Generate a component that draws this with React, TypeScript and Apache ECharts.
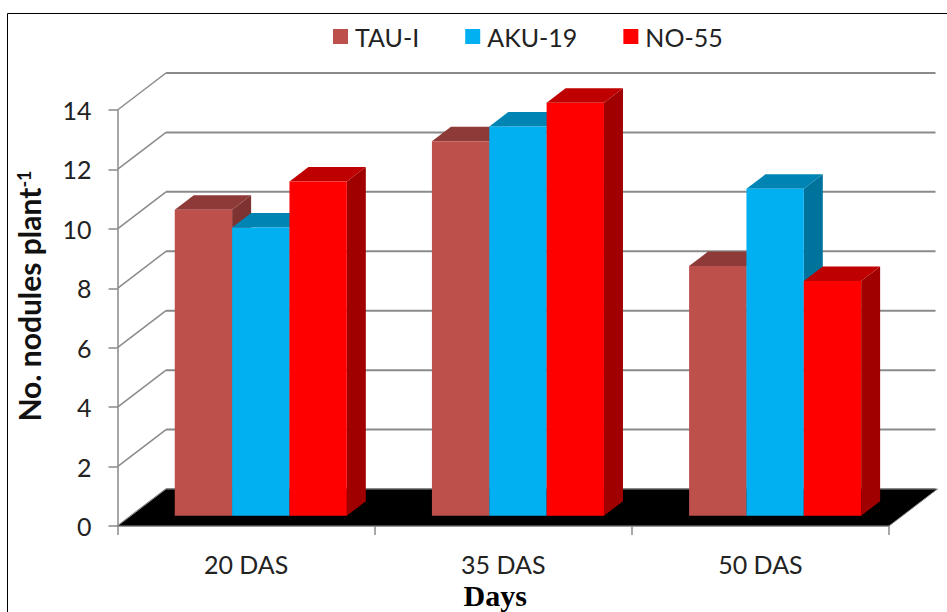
import React, { useEffect, useRef } from "react";
import * as echarts from "echarts";

const categories = ["20 DAS", "35 DAS", "50 DAS"];
const tauValues = [10.3, 12.6, 8.4];
const akuValues = [9.7, 13.1, 11.0];
const noValues = [11.25, 13.9, 7.9];
const yTicks = [0, 2, 4, 6, 8, 10, 12, 14];

const seriesStyles = [
  { name: "TAU-I", values: tauValues, front: "#BE504B", top: "#8E3A38", side: "#7E3331", slot: 0 },
  { name: "AKU-19", values: akuValues, front: "#00B0F0", top: "#0084B4", side: "#00739D", slot: 1 },
  { name: "NO-55", values: noValues, front: "#FF0000", top: "#BF0000", side: "#A00000", slot: 2 },
];

// Oblique projection of the chart's floor, in pixels
const WALL_DX = 48.5;
const WALL_DY = -37;
const BAR_LIFT = 10.3;
const BAR_DX = 19;
const BAR_DY = -14.5;
const GROUP_SHIFT = 14.7;
const GROUP_SHARE = 0.669;

const GREY = "#8A8A8A";
const FONT = "Lato, Carlito, 'Open Sans', sans-serif";
const INK = "#222222";

function renderFloor(params: any, api: any) {
  const c = params.coordSys;
  const y0 = api.coord([0, 0])[1];
  const xl = c.x;
  const xr = c.x + c.width;
  return {
    type: "polygon",
    shape: {
      points: [
        [xl, y0],
        [xl + WALL_DX, y0 + WALL_DY],
        [xr + WALL_DX, y0 + WALL_DY],
        [xr, y0],
      ],
    },
    style: { fill: "#000000", stroke: GREY, lineWidth: 1 },
  };
}

function renderWallLine(params: any, api: any) {
  const c = params.coordSys;
  const y = api.coord([0, api.value(1)])[1];
  const xl = c.x;
  const xr = c.x + c.width;
  return {
    type: "group",
    children: [
      {
        type: "line",
        shape: { x1: xl, y1: y, x2: xl + WALL_DX, y2: y + WALL_DY },
        style: { stroke: GREY, lineWidth: 1.5 },
      },
      {
        type: "line",
        shape: { x1: xl + WALL_DX, y1: y + WALL_DY, x2: xr + WALL_DX - 2, y2: y + WALL_DY },
        style: { stroke: GREY, lineWidth: 2 },
      },
    ],
  };
}

function makeBarRenderer(style: (typeof seriesStyles)[number]) {
  return (_params: any, api: any) => {
    const centre = api.coord([api.value(0), 0]);
    const top = api.coord([api.value(0), api.value(1)]);
    const barWidth = (api.size([1, 0])[0] * GROUP_SHARE) / seriesStyles.length;
    const xl = centre[0] + GROUP_SHIFT + (style.slot - seriesStyles.length / 2) * barWidth;
    const xr = xl + barWidth;
    const yb = centre[1] - BAR_LIFT;
    const yt = top[1] - BAR_LIFT;
    return {
      type: "group",
      children: [
        {
          type: "polygon",
          shape: {
            points: [
              [xr, yt],
              [xr + BAR_DX, yt + BAR_DY],
              [xr + BAR_DX, yb + BAR_DY],
              [xr, yb],
            ],
          },
          style: { fill: style.side },
        },
        {
          type: "polygon",
          shape: {
            points: [
              [xl, yt],
              [xl + BAR_DX, yt + BAR_DY],
              [xr + BAR_DX, yt + BAR_DY],
              [xr, yt],
            ],
          },
          style: { fill: style.top },
        },
        {
          type: "rect",
          shape: { x: xl, y: yt, width: barWidth, height: yb - yt },
          style: { fill: style.front },
        },
      ],
    };
  };
}

export default function App() {
  const ref = useRef<HTMLDivElement>(null);

  useEffect(() => {
    document.body.style.margin = "0";
    const chart = echarts.init(ref.current!, undefined, { renderer: "svg" });
    chart.setOption({
      animation: false,
      backgroundColor: "#ffffff",
      grid: { left: 117.5, right: 58, top: 110, bottom: 86, containLabel: false, outerBoundsMode: "none" },
      legend: {
        left: 333,
        top: 24,
        padding: 0,
        icon: "rect",
        itemWidth: 15,
        itemHeight: 15,
        itemGap: 46,
        data: seriesStyles.map((s) => s.name),
        selectedMode: false,
        textStyle: { fontFamily: FONT, fontSize: 25, color: INK, padding: [0, 0, 0, 2] },
      },
      xAxis: {
        type: "category",
        data: categories,
        name: "Days",
        nameLocation: "middle",
        nameGap: 46,
        nameTextStyle: {
          fontFamily: "'Liberation Serif', serif",
          fontWeight: "bold",
          fontSize: 30,
          color: "#000000",
          padding: [0, 16, 0, 0],
        },
        axisLine: { show: true, lineStyle: { color: GREY, width: 1.5 } },
        axisTick: { show: true, length: 9, lineStyle: { color: GREY, width: 1.5 } },
        axisLabel: { fontFamily: FONT, fontSize: 25, color: INK, margin: 25 },
      },
      yAxis: {
        type: "value",
        min: 0,
        max: 14,
        interval: 2,
        splitLine: { show: false },
        axisLine: { show: true, lineStyle: { color: GREY, width: 1.5 } },
        axisTick: { show: true, length: 9, lineStyle: { color: GREY, width: 1.5 } },
        axisLabel: { fontFamily: FONT, fontSize: 25, color: INK, margin: 26 },
      },
      graphic: [
        { type: "line", shape: { x1: 7.5, y1: 13.5, x2: 947, y2: 13.5 }, style: { stroke: "#000000", lineWidth: 1 } },
        { type: "line", shape: { x1: 7.5, y1: 13.5, x2: 7.5, y2: 612 }, style: { stroke: "#000000", lineWidth: 1 } },
        {
          type: "text",
          x: 29,
          y: 296,
          rotation: Math.PI / 2,
          style: {
            text: "{t|No. nodules plant}{s|-1}",
            align: "center",
            verticalAlign: "middle",
            rich: {
              t: { fontFamily: FONT, fontWeight: "bold", fontSize: 30, fill: "#111111", lineHeight: 34 },
              s: {
                fontFamily: FONT,
                fontWeight: "bold",
                fontSize: 18,
                fill: "#111111",
                verticalAlign: "top",
                lineHeight: 34,
                padding: [3, 0, 0, 0],
              },
            },
          },
        },
      ],
      series: [
        {
          type: "custom",
          name: "floor",
          silent: true,
          clip: false,
          z: 1,
          renderItem: renderFloor,
          encode: { x: 0, y: 1 },
          data: [[0, 0]],
        },
        {
          type: "custom",
          name: "walls",
          silent: true,
          clip: false,
          z: 0,
          renderItem: renderWallLine,
          encode: { x: 0, y: 1 },
          data: yTicks.map((t) => [0, t]),
        },
        ...seriesStyles.map((s) => ({
          type: "custom",
          name: s.name,
          silent: true,
          clip: false,
          z: 2,
          itemStyle: { color: s.front },
          renderItem: makeBarRenderer(s),
          encode: { x: 0, y: 1 },
          data: s.values.map((v, i) => [i, v]),
        })),
      ],
    });
    return () => chart.dispose();
  }, []);

  return <div ref={ref} style={{ position: "absolute", left: 0, top: 0, width: 947, height: 612 }} />;
}
